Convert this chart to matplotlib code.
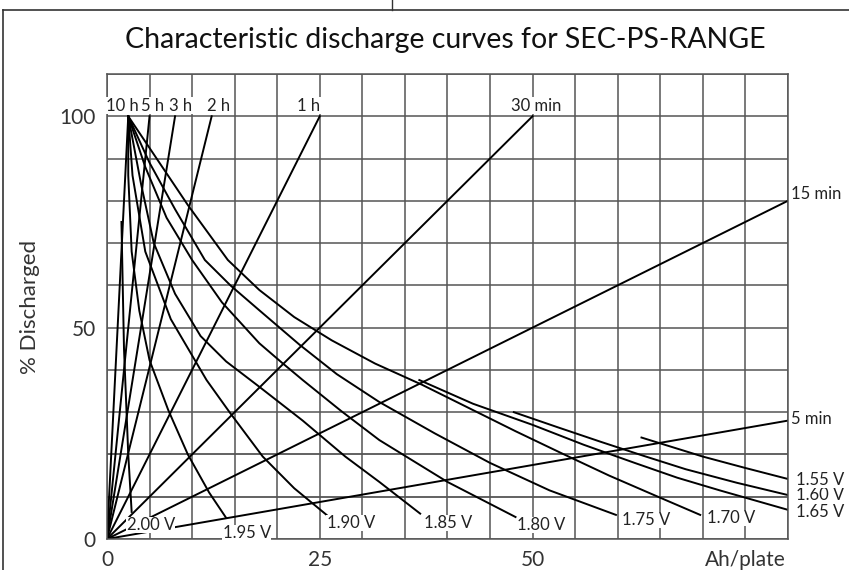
import matplotlib
matplotlib.use("Agg")
import matplotlib.pyplot as plt
from matplotlib.lines import Line2D

plt.rcParams['font.family'] = ['Lato', 'DejaVu Sans']

# discharge-rate lines: origin to end point
rate_names = ['10 h', '5 h', '3 h', '2 h', '1 h', '30 min', '15 min', '5 min']
rate_end_x = [2.5, 5, 8, 12.3, 25, 50, 80, 80]
rate_end_y = [100, 100, 100, 100, 100, 100, 80, 28]

# final-voltage curves (Ah/plate, % discharged)
volt_names = ['2.00 V', '1.95 V', '1.90 V', '1.85 V', '1.80 V', '1.75 V',
              '1.70 V', '1.65 V', '1.60 V', '1.55 V']
volt_x = [
    [1.7, 2.0, 2.5, 2.9],
    [2.5, 2.5, 2.9, 3.8, 5.0, 7.2, 9.5, 12, 14],
    [2.5, 3.0, 4.5, 7.5, 11.7, 14.4, 18.3, 22, 25.8],
    [2.5, 4.0, 5.5, 8, 11, 14, 17.9, 23, 28, 32, 36.8],
    [2.5, 4.5, 7, 10, 13.5, 17.9, 20.5, 23, 27.5, 32, 40, 48],
    [2.5, 5, 8, 11.5, 14.5, 17.9, 22.6, 27, 32, 38.5, 45, 52, 59.8],
    [2.5, 5.5, 9.5, 14.2, 17.9, 22, 26.4, 31.5, 37, 42.5, 48, 53.5, 59, 64.5, 69.7],
    [36.7, 43, 50, 56, 62, 67, 72, 80],
    [47.8, 53, 58, 63, 68, 74, 80],
    [62.8, 70, 75, 80],
]
volt_y = [
    [75, 45, 20, 6.4],
    [100, 86, 68, 54, 42.3, 30.5, 20, 11, 5],
    [100, 86, 68, 52, 37.6, 30, 19.5, 12, 5.7],
    [100, 84, 70, 58, 48, 42, 36, 28, 19.5, 13.5, 6],
    [100, 88, 76, 66, 56, 46.3, 41.8, 37.6, 30.3, 23.4, 13.5, 5.2],
    [100, 89, 78, 66, 60, 54.1, 46, 39, 32.4, 25, 18, 11.5, 5.7],
    [100, 91, 79, 66, 58.9, 52.5, 47, 41.5, 36.5, 31, 25.5, 20.2, 15, 10.2, 5.7],
    [37.6, 32, 27, 22.3, 18, 14.5, 11.5, 6.9],
    [30, 26.4, 23, 19.7, 16.5, 13.3, 10.4],
    [24, 19.5, 16.8, 14.2],
]

fig = plt.figure(figsize=(8.49, 5.70), dpi=100)
ax = fig.add_axes([0.126, 0.0544, 0.802, 0.8158])

gcol = '#555555'
for x in range(0, 81, 5):
    ax.axvline(x, color=gcol, lw=1.1, zorder=1)
for y in range(0, 111, 10):
    ax.axhline(y, color=gcol, lw=1.3 if y in (10, 20) else 1.1, zorder=1)

for xe, ye in zip(rate_end_x, rate_end_y):
    ax.plot([0, xe], [0, ye], color='black', lw=1.4, zorder=2)
for xs, ys in zip(volt_x, volt_y):
    ax.plot(xs, ys, color='black', lw=1.4, zorder=2)

# labels of rate lines
fs = 12
tc = '#222222'
top_lab_x = [1.8, 5.3, 8.7, 13.1, 23.7, 50.4]
for name, lx in zip(rate_names[:6], top_lab_x):
    ax.text(lx, 100.6, name, ha='center', va='bottom', fontsize=fs, color=tc, zorder=3,
            bbox=dict(facecolor='white', edgecolor='none', pad=0.2))
ax.text(80.4, 81.5, '15 min', ha='left', va='center', fontsize=fs, color=tc, clip_on=False)
ax.text(80.4, 28.5, '5 min', ha='left', va='center', fontsize=fs, color=tc, clip_on=False)

# labels of voltage curves
vlab_x = [2.3, 13.6, 25.8, 37.3, 48.2, 60.5, 70.5, 81, 81, 81]
vlab_y = [3.3, 1.4, 3.8, 3.8, 3.3, 4.5, 5.0, 6.4, 10.4, 14.0]
for name, lx, ly in zip(volt_names, vlab_x, vlab_y):
    ax.text(lx, ly, name, ha='left', va='center', fontsize=fs, color=tc, zorder=3,
            clip_on=False, bbox=dict(facecolor='white', edgecolor='none', pad=0.3))

ax.set_xlim(0, 80)
ax.set_ylim(0, 110)
ax.set_xticks([0, 25, 50, 75])
ax.set_xticklabels(['0', '25', '50', 'Ah/plate'])
ax.set_yticks([0, 50, 100])
ax.tick_params(length=0, labelsize=15, colors='#333333', pad=8)
for s in ax.spines.values():
    s.set_color(gcol)
    s.set_linewidth(1.1)
ax.set_ylabel('% Discharged', fontsize=16, color='#333333', labelpad=14)

fig.text(0.524, 0.93, 'Characteristic discharge curves for SEC-PS-RANGE',
         ha='center', va='center', fontsize=20.5, color='#111111')

# outer frame of the figure
fig.add_artist(Line2D([0.004, 0.004], [0, 0.982], color='#333333', lw=1.2))
fig.add_artist(Line2D([0.004, 1.0], [0.982, 0.982], color='#333333', lw=1.2))
fig.add_artist(Line2D([0.462, 0.462], [0.982, 1.0], color='#333333', lw=1.0))

fig.savefig('out.png', dpi=100)
